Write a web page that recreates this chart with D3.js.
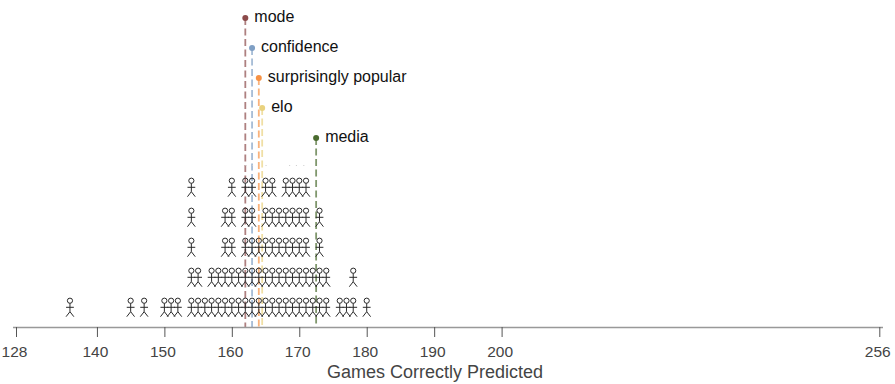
<!DOCTYPE html>
<html><head><meta charset="utf-8">
<script src="https://cdn.jsdelivr.net/npm/d3@7"></script>
<style>html,body{margin:0;padding:0;background:#fff}svg{display:block}text{font-family:"Liberation Sans",Arial,sans-serif}</style>
</head><body><svg id="c" width="895" height="384"></svg>
<script>
const tickValues=[128,140,150,160,170,180,190,200,256];
const xLabel="Games Correctly Predicted";
const row1=[136,145,147,150,151,152,154,155,156,157,158,159,160,161,162,163,164,165,166,167,168,169,170,171,172,173,174,176,177,178,180];
const row2=[154,155,157,158,159,160,161,162,163,164,165,166,167,168,169,170,171,172,173,174,178];
const row3=[154,159,160,162,163,164,165,166,167,168,169,170,171,173];
const row4=[154,159,160,162,163,165,166,167,168,169,170,171,173];
const row5=[154,160,162,163,165,166,168,169,170,171];
const rows=[row1,row2,row3,row4,row5];
const faintMarks=[162,163,165,168.5,169.5,170.6];
const modelNames=["mode","confidence","surprisingly popular","elo","media"];
const modelValues=[162,163,164,164.5,172.5];
const modelColors=["#8c4a4a","#7f9fc4","#f79244","#e9d27f","#4a6b2f"];
const modelLevels=[0,1,2,3,4];

const svg=d3.select("#c");
const x=d3.scaleLinear().domain([128,256]).range([16,879.3]);
const yRow=d3.scaleLinear().domain([0,4]).range([300.7,180.7]);
const yLabel=d3.scaleLinear().domain([0,4]).range([17.9,138]);
const axisY=327;

const lines=svg.append("g");
modelNames.forEach((n,i)=>{
  const px=x(modelValues[i]),py=yLabel(modelLevels[i]);
  lines.append("line").attr("x1",px).attr("x2",px).attr("y1",py).attr("y2",axisY)
    .attr("stroke",modelColors[i]).attr("stroke-width",1.8).attr("stroke-opacity",0.7).attr("stroke-dasharray","7 3.5");
  lines.append("circle").attr("cx",px).attr("cy",py).attr("r",3).attr("fill",modelColors[i]);
  svg.append("text").attr("x",px+9).attr("y",py+3.9).attr("font-size",16).attr("fill","#111").text(n);
});

svg.append("g").selectAll("rect").data(faintMarks).join("rect")
  .attr("x",d=>x(d)).attr("y",165).attr("width",1).attr("height",1).attr("fill","#ccc");

const figs=svg.append("g").attr("fill","none").attr("stroke","#2a2a2a").attr("stroke-width",1);
rows.forEach((r,i)=>{
  r.forEach(v=>{
    const g=figs.append("g").attr("transform",`translate(${x(v)},${yRow(i)})`);
    g.append("circle").attr("r",2.6);
    g.append("path").attr("d","M0,2.6V11M-3.9,6.6H3.9M0,11L-3.9,16M0,11L3.9,16");
  });
});

const axis=d3.axisBottom(x).tickValues(tickValues).tickFormat(d3.format("d")).tickSize(10).tickPadding(9);
const ag=svg.append("g").attr("transform",`translate(0,${axisY})`).call(axis);
ag.select(".domain").attr("stroke","#999").attr("stroke-width",1.6).attr("d","M13,0.5H883");
ag.selectAll(".tick line").attr("stroke","#555");
ag.selectAll("text").attr("font-size",15.5).attr("fill","#444").attr("font-family","Liberation Sans").attr("dx",-2);
svg.append("text").attr("x",435).attr("y",378).attr("text-anchor","middle").attr("font-size",18).attr("fill","#444").text(xLabel);
</script></body></html>
